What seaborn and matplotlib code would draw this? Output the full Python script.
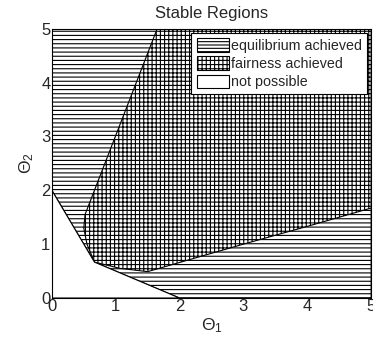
import seaborn as sns
import matplotlib.pyplot as plt
from matplotlib.patches import Patch

# region outlines (theta_1, theta_2)
equil_x = [0, 0, 5, 5, 2, 0.667]
equil_y = [2, 5, 5, 0, 0, 0.667]

fair_x = [0.667, 0.55, 0.50, 0.52, 1.65, 5, 5, 4.0, 3.0, 2.0, 1.5, 1.07]
fair_y = [0.667, 1.00, 1.30, 1.55, 5.00, 5, 1.67, 1.33, 1.00, 0.66, 0.49, 0.55]

nopos_x = [0, 0, 0.667, 2]
nopos_y = [0, 2, 0.667, 0]

labels = ["equilibrium achieved", "fairness achieved", "not possible"]
ticks = [0, 1, 2, 3, 4, 5]

sns.set_style("white")
plt.rcParams['font.family'] = ['Liberation Sans', 'DejaVu Sans']
plt.rcParams['mathtext.fontset'] = 'custom'
plt.rcParams['mathtext.rm'] = 'Liberation Sans'
plt.rcParams['mathtext.it'] = 'Liberation Sans:italic'
plt.rcParams['hatch.linewidth'] = 0.8

fig = plt.figure(figsize=(3.73, 3.41), dpi=100)
ax = fig.add_axes([0.139, 0.126, 0.856, 0.79])

ax.fill(equil_x, equil_y, facecolor="white", edgecolor="black", hatch="----", linewidth=0.8)
ax.fill(fair_x, fair_y, facecolor="white", edgecolor="black", hatch="++++", linewidth=0.8)
ax.fill(nopos_x, nopos_y, facecolor="white", edgecolor="black", linewidth=0.8)

ax.set_xlim(0, 5)
ax.set_ylim(0, 5)
ax.set_xticks(ticks)
ax.set_yticks(ticks)
ax.tick_params(direction="in", length=3, labelsize=12, pad=1)
for sp in ax.spines.values():
    sp.set_color("black")
    sp.set_linewidth(0.8)

ax.set_title("Stable Regions", fontsize=12, pad=7.5)
ax.set_xlabel(r"$\Theta_1$", fontsize=12.5, labelpad=1)
ax.set_ylabel(r"$\Theta_2$", fontsize=12.5, labelpad=4)

handles = [Patch(facecolor="white", edgecolor="black", hatch="-----", linewidth=0.8),
           Patch(facecolor="white", edgecolor="black", hatch="++++", linewidth=0.8),
           Patch(facecolor="white", edgecolor="black", linewidth=0.8)]
leg = ax.legend(handles, labels, loc="upper right", fontsize=10.3, fancybox=False,
                framealpha=1, edgecolor="black", handlelength=2.3, handleheight=1.1,
                handletextpad=0.1, borderaxespad=0.3, borderpad=0.35, labelspacing=0.25)
leg.get_frame().set_linewidth(0.8)

fig.savefig("out.png", dpi=100)
